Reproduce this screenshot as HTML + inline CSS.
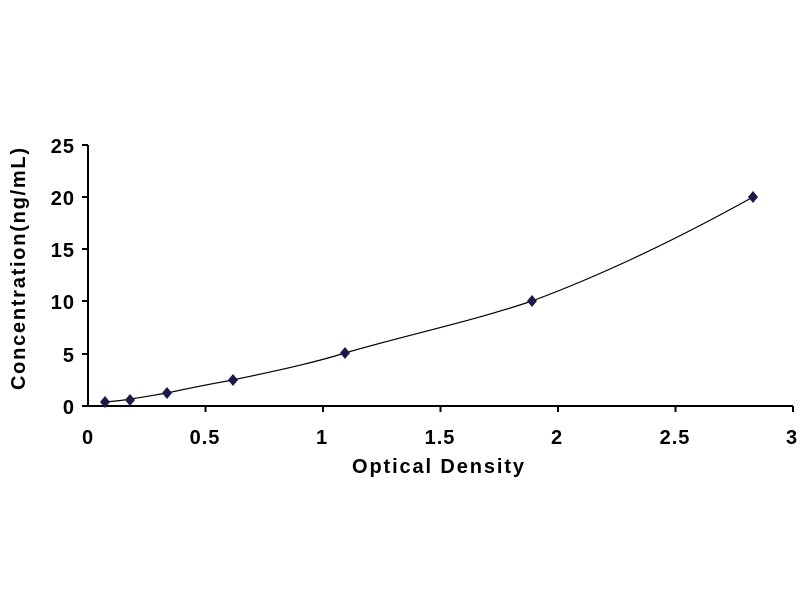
<!DOCTYPE html>
<html><head><style>body{margin:0;background:#fff}</style></head><body>
<svg width="800" height="600" xmlns="http://www.w3.org/2000/svg" font-family="Liberation Sans, sans-serif" font-weight="bold">
<rect width="800" height="600" fill="#fff"/>
<g stroke="#000" stroke-width="2">
<line x1="88" y1="145" x2="88" y2="407"/>
<line x1="87" y1="406" x2="793" y2="406"/>
<line x1="82" y1="145" x2="88" y2="145"/>
<line x1="82" y1="197" x2="88" y2="197"/>
<line x1="82" y1="249" x2="88" y2="249"/>
<line x1="82" y1="301" x2="88" y2="301"/>
<line x1="82" y1="354" x2="88" y2="354"/>
<line x1="82" y1="406" x2="88" y2="406"/>
<line x1="205.5" y1="406" x2="205.5" y2="412"/>
<line x1="323" y1="406" x2="323" y2="412"/>
<line x1="440.5" y1="406" x2="440.5" y2="412"/>
<line x1="558" y1="406" x2="558" y2="412"/>
<line x1="675.5" y1="406" x2="675.5" y2="412"/>
<line x1="793" y1="406" x2="793" y2="412"/>
</g>
<g font-size="20" text-anchor="end" letter-spacing="1">
<text x="75" y="153">25</text><text x="75" y="205">20</text><text x="75" y="257">15</text>
<text x="75" y="309">10</text><text x="75" y="362">5</text><text x="75" y="414">0</text>
</g>
<g font-size="20" text-anchor="middle" letter-spacing="1">
<text x="88" y="444">0</text><text x="205" y="444">0.5</text><text x="322" y="444">1</text>
<text x="440" y="444">1.5</text><text x="557" y="444">2</text><text x="675" y="444">2.5</text><text x="792" y="444">3</text>
</g>
<text x="352" y="473" font-size="20" textLength="172" lengthAdjust="spacing">Optical Density</text>
<text transform="translate(25,390) rotate(-90)" font-size="20" textLength="242" lengthAdjust="spacing">Concentration(ng/mL)</text>
<path d="M105,402 C118,401 125,400 130,399 C145,397 155,395 167,393 C190,388 210,384 233,380 C270,372 310,364 345,353 C410,334 470,322 532,301 C610,272 690,232 753,197" fill="none" stroke="#000" stroke-width="1.2"/>
<g fill="#1a1a4a">
<path d="M105,396 l5,6 l-5,6 l-5,-6z"/>
<path d="M130,394 l5,6 l-5,6 l-5,-6z"/>
<path d="M167,387 l5,6 l-5,6 l-5,-6z"/>
<path d="M233,374 l5,6 l-5,6 l-5,-6z"/>
<path d="M345,347 l5,6 l-5,6 l-5,-6z"/>
<path d="M532,295 l5,6 l-5,6 l-5,-6z"/>
<path d="M753,191 l5,6 l-5,6 l-5,-6z"/>
</g>
</svg>
</body></html>
